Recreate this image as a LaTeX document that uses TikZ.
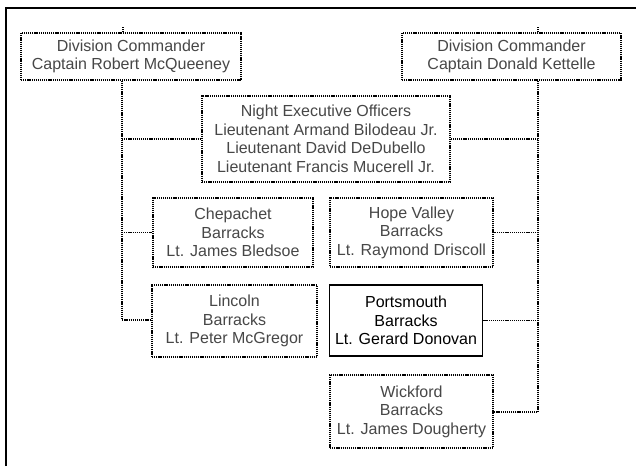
\documentclass[tikz,border=0pt]{standalone}
\usepackage{fontspec}
\setmainfont{Liberation Sans}
\begin{document}
\begin{tikzpicture}[x=1pt,y=-1pt,
  dotline/.style={line width=1.6pt, dash pattern=on 1.2pt off 0.9pt, black},
  unitbox/.style={draw, dotline, align=center, inner sep=0pt,
    font=\fontsize{16}{18.5}\selectfont, text=black!72},
  hqbox/.style={draw, line width=1.6pt, align=center, inner sep=0pt,
    font=\fontsize{16}{18.5}\selectfont, text=black},
  conn/.style={dotline}]
\useasboundingbox (0,0) rectangle (636,466);
\fill[white] (0,0) rectangle (636,466);

% outer frame (top and left edges only)
\draw[line width=2pt] (6,466) -- (6,8) -- (636,8);

% commanders
\node[unitbox, minimum width=220pt, minimum height=47pt] (L1) at (131,56.5)
  {Division Commander\\Captain Robert McQueeney};
\node[unitbox, minimum width=219pt, minimum height=47pt] (R1) at (511.5,56.5)
  {Division Commander\\Captain Donald Kettelle};

% night executive officers
\node[unitbox, minimum width=248pt, minimum height=86pt] (NEO) at (326,139)
  {Night Executive Officers\\Lieutenant Armand Bilodeau Jr.\\Lieutenant David DeDubello\\Lieutenant Francis Mucerell Jr.};

% barracks
\node[unitbox, minimum width=160pt, minimum height=69pt] (Chep) at (233,232.5)
  {Chepachet\\Barracks\\Lt. James Bledsoe};
\node[unitbox, minimum width=163pt, minimum height=69pt] (Hope) at (411.5,232.5)
  {Hope Valley\\Barracks\\Lt. Raymond Driscoll};
\node[unitbox, minimum width=165pt, minimum height=72pt] (Linc) at (234.5,321)
  {Lincoln\\Barracks\\Lt. Peter McGregor};
\node[hqbox, minimum width=153pt, minimum height=71pt] (Port) at (406,320.5)
  {Portsmouth\\Barracks\\Lt. Gerard Donovan};
\node[unitbox, minimum width=163pt, minimum height=73pt] (Wick) at (411.5,411.5)
  {Wickford\\Barracks\\Lt. James Dougherty};

% spines
\coordinate (lspine) at (122,320);
\coordinate (rspine) at (538,412);

% short stubs above the commanders
\draw[conn] (L1.north -| 123,0) -- ++(0,-5);
\draw[conn] (R1.north -| rspine) -- ++(0,-6);

% left spine and its branches
\draw[conn] (L1.south -| lspine) -- (lspine) -- (Linc.west |- lspine);
\draw[conn] (lspine |- NEO.west) -- (NEO.west);
\draw[conn] (lspine |- Chep.west) -- (Chep.west);

% right spine and its branches
\draw[conn] (R1.south -| rspine) -- (rspine) -- (Wick.east |- rspine);
\draw[conn] (rspine |- NEO.east) -- (NEO.east);
\draw[conn] (rspine |- Hope.east) -- (Hope.east);
\draw[conn] (rspine |- Port.east) -- (Port.east);
\end{tikzpicture}
\end{document}
